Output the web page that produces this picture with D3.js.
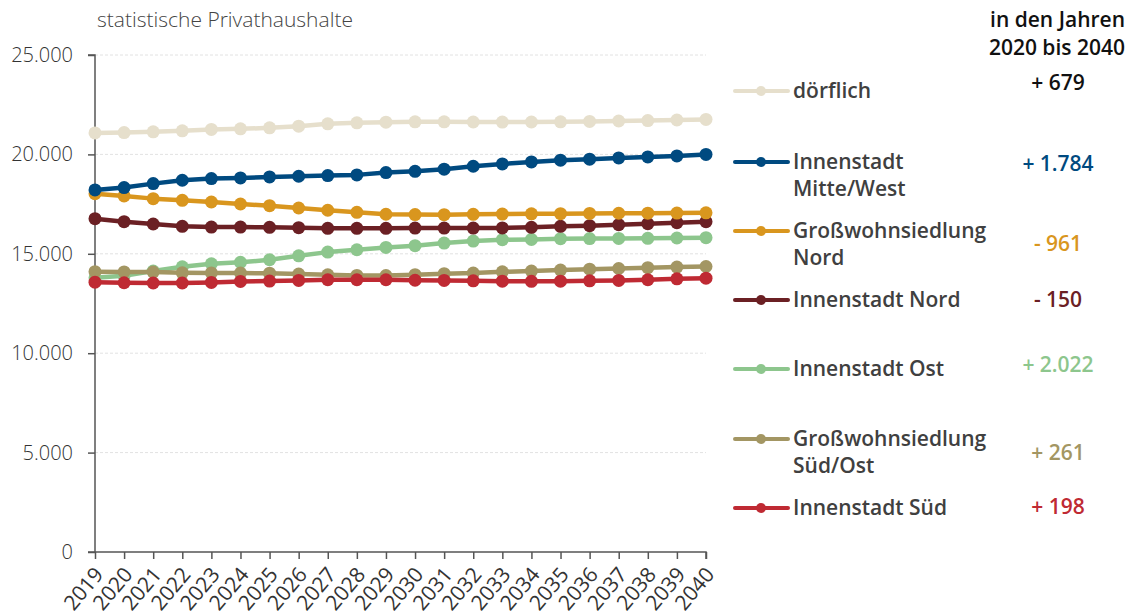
<!DOCTYPE html>
<html><head><meta charset="utf-8">
<script src="https://cdn.jsdelivr.net/npm/d3@7"></script>
<style>
html,body{margin:0;padding:0;background:#fff;}
svg{display:block;font-family:"Open Sans",sans-serif;}
</style></head>
<body><svg id="c" width="1128" height="616"></svg>
<script>
const years = d3.range(2019, 2041);
const yTicks = [0, 5000, 10000, 15000, 20000, 25000];
const seriesNames = ["dörflich","Innenstadt Mitte/West","Großwohnsiedlung Nord","Innenstadt Nord","Innenstadt Ost","Großwohnsiedlung Süd/Ost","Innenstadt Süd"];
const legendLines = [["dörflich"],["Innenstadt","Mitte/West"],["Großwohnsiedlung","Nord"],["Innenstadt Nord"],["Innenstadt Ost"],["Großwohnsiedlung","Süd/Ost"],["Innenstadt Süd"]];
const changes = ["+ 679","+ 1.784","- 961","- 150","+ 2.022","+ 261","+ 198"];
const colors = ["#E6DFCC","#004A80","#D9961E","#6B2024","#8DC68D","#A39663","#BF2A33"];
const dorflich = [21080,21100,21135,21185,21255,21285,21335,21420,21540,21590,21620,21640,21640,21630,21625,21630,21640,21660,21680,21700,21730,21760];
const mitteWest = [18215,18330,18530,18700,18785,18815,18865,18900,18935,18970,19085,19150,19255,19405,19520,19620,19710,19760,19825,19875,19925,19999];
const gwNord = [18020,17910,17775,17690,17605,17505,17420,17305,17190,17085,16990,16975,16970,16985,17000,17010,17020,17030,17040,17045,17050,17060];
const innNord = [16765,16615,16500,16380,16345,16345,16330,16315,16280,16280,16280,16295,16295,16295,16300,16330,16380,16415,16465,16515,16565,16615];
const innOst = [13790,13895,14130,14350,14500,14570,14700,14900,15085,15205,15320,15410,15540,15640,15710,15725,15760,15765,15775,15780,15795,15812];
const gwSuedOst = [14100,14090,14080,14045,14040,14030,14025,13980,13945,13910,13905,13950,14000,14030,14095,14130,14180,14225,14260,14300,14330,14361];
const innSued = [13575,13545,13530,13530,13560,13610,13630,13660,13695,13695,13695,13670,13660,13640,13625,13615,13625,13640,13660,13695,13740,13773];
const seriesValues = [dorflich,mitteWest,gwNord,innNord,innOst,gwSuedOst,innSued];

const svg = d3.select("#c");
const x = d3.scaleLinear().domain([2019,2040]).range([95,706]);
const y = d3.scaleLinear().domain([0,25000]).range([552,55]);
const fmt = v => d3.format(",")(v).replace(/,/g,".");

// gridlines
svg.append("g").selectAll("line").data(yTicks.filter(d=>d>0)).join("line")
  .attr("x1",95).attr("x2",706).attr("y1",d=>y(d)).attr("y2",d=>y(d))
  .attr("stroke","#e2e2e2").attr("stroke-width",1).attr("stroke-dasharray","3,2");

// y axis
const ya = svg.append("g").attr("transform","translate(95,0)")
  .call(d3.axisLeft(y).tickValues(yTicks).tickFormat(fmt).tickSize(7).tickPadding(15));
ya.select(".domain").attr("stroke","#555").attr("stroke-width",1.5).attr("d","M0,"+y(0)+"V"+y(25000)+"H-7");
ya.selectAll(".tick line").attr("stroke","#555").attr("stroke-width",1.5);
ya.selectAll("text").attr("font-size",20).attr("font-weight",300).attr("fill","#333").attr("font-family","Open Sans");

// x axis
const xa = svg.append("g").attr("transform","translate(0,"+y(0)+")")
  .call(d3.axisBottom(x).tickValues(years).tickFormat(d3.format("d")).tickSize(7));
xa.select(".domain").attr("stroke","#555").attr("stroke-width",1.5).attr("d","M88,0H706V7");
xa.selectAll(".tick line").attr("stroke","#555").attr("stroke-width",1.5);
xa.selectAll("text").attr("font-size",21).attr("fill","#333").attr("font-family","Open Sans")
  .attr("text-anchor","end").attr("dy","0").attr("y",0)
  .attr("transform","translate(9,23) rotate(-50)");

// title
svg.append("text").attr("x",97).attr("y",27).attr("font-size",21).attr("fill","#444").attr("font-weight",300)
  .text("statistische Privathaushalte");

// lines
const line = d3.line().x((d,i)=>x(years[i])).y(d=>y(d));
const order = [0,4,5,6,3,2,1];
order.forEach(k=>{
  const g = svg.append("g");
  g.append("path").datum(seriesValues[k]).attr("d",line).attr("fill","none")
    .attr("stroke",colors[k]).attr("stroke-width",4.5).attr("stroke-linejoin","round");
  g.selectAll("circle").data(seriesValues[k]).join("circle")
    .attr("cx",(d,i)=>x(years[i])).attr("cy",d=>y(d)).attr("r",6.5).attr("fill",colors[k]);
});

// legend
const legY = [91,162,231,300,369,439,508];
const numY = [90,171,251,307,372,460,514];
seriesNames.forEach((n,k)=>{
  const g = svg.append("g").attr("transform","translate(0,"+legY[k]+")");
  g.append("line").attr("x1",735).attr("x2",788).attr("y1",0).attr("y2",0)
    .attr("stroke",colors[k]).attr("stroke-width",4).attr("stroke-linecap","round");
  g.append("circle").attr("cx",761).attr("cy",0).attr("r",5).attr("fill",colors[k]);
  const t = g.append("text").attr("x",793).attr("y",7).attr("font-size",21).attr("font-weight",600).attr("fill","#404040");
  legendLines[k].forEach((s,j)=>t.append("tspan").attr("x",793).attr("dy",j?27:0).text(s));
  svg.append("text").attr("x",1058).attr("y",numY[k]).attr("text-anchor","middle")
    .attr("font-size",21).attr("font-weight",600).attr("fill",k===0?"#111":colors[k]).text(changes[k]);
});
svg.append("text").attr("x",1125).attr("y",27).attr("text-anchor","end").attr("font-size",21).attr("font-weight",600).attr("fill","#111").text("in den Jahren");
svg.append("text").attr("x",1125).attr("y",55).attr("text-anchor","end").attr("font-size",21).attr("font-weight",600).attr("fill","#111").text("2020 bis 2040");
</script></body></html>
